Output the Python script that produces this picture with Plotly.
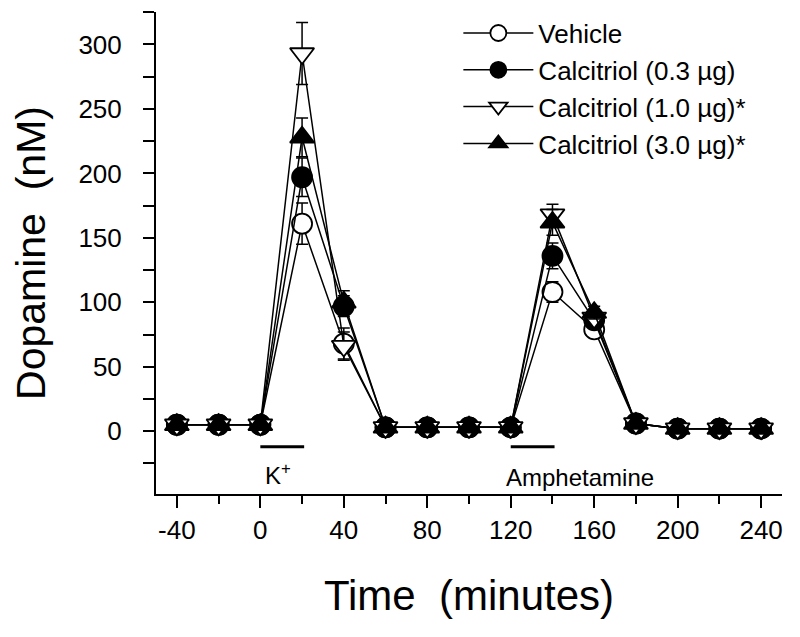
import plotly.graph_objects as go

time_min = [-40, -20, 0, 20, 40, 60, 80, 100, 120, 140, 160, 180, 200, 220, 240]

vehicle = [5, 5, 5, 161, 68, 3, 3, 3, 3, 108, 79, 6, 2, 2, 2]
vehicle_err = [2, 2, 2, 16, 12, 1, 1, 1, 1, 8, 5, 2, 1, 1, 1]

calc_03 = [5, 5, 5, 197, 97, 3, 3, 3, 3, 136, 86, 6, 2, 2, 2]
calc_03_err = [2, 2, 2, 15, 8, 1, 1, 1, 1, 10, 5, 2, 1, 1, 1]

calc_10 = [5, 5, 5, 293, 66, 3, 3, 3, 3, 168, 88, 6, 2, 2, 2]
calc_10_err = [2, 2, 2, 24, 11, 1, 1, 1, 1, 8, 5, 2, 1, 1, 1]

calc_30 = [5, 5, 5, 228, 100, 3, 3, 3, 3, 162, 92, 6, 2, 2, 2]
calc_30_err = [2, 2, 2, 15, 9, 1, 1, 1, 1, 10, 5, 2, 1, 1, 1]

series_names = ["Vehicle", "Calcitriol (0.3 µg)", "Calcitriol (1.0 µg)*", "Calcitriol (3.0 µg)*"]

x_tick_vals = [-40, 0, 40, 80, 120, 160, 200, 240]
x_tick_text = ["-40", "0", "40", "80", "120", "160", "200", "240"]

FONT = "Liberation Sans, Arial, sans-serif"

styles = [
    dict(symbol="circle", color="white", size=20),
    dict(symbol="circle", color="black", size=20),
    dict(symbol="triangle-down", color="white", size=21),
    dict(symbol="triangle-up", color="black", size=21),
]
datas = [(vehicle, vehicle_err), (calc_03, calc_03_err), (calc_10, calc_10_err), (calc_30, calc_30_err)]

fig = go.Figure()
for name, (vals, errs), st in zip(series_names, datas, styles):
    fig.add_trace(go.Scatter(
        x=time_min, y=vals, name=name, mode="lines+markers",
        legendgroup=name,
        line=dict(color="black", width=1.5),
        marker=dict(symbol=st["symbol"], color=st["color"], size=st["size"],
                    line=dict(color="black", width=1.8)),
        error_y=dict(type="data", array=errs, visible=True, color="black",
                     thickness=1.5, width=6),
    ))

# stimulus bars and labels
fig.add_shape(type="line", x0=0, x1=21, y0=-12, y1=-12, xref="x", yref="y",
              line=dict(color="black", width=3))
fig.add_shape(type="line", x0=120, x1=141, y0=-12, y1=-12, xref="x", yref="y",
              line=dict(color="black", width=3))
fig.add_annotation(x=1.5, y=-33, xref="x", yref="y", text="K<sup>+</sup>",
                   showarrow=False, xanchor="left", yanchor="middle",
                   font=dict(family=FONT, size=24, color="black"))
fig.add_annotation(x=117, y=-36, xref="x", yref="y", text="Amphetamine",
                   showarrow=False, xanchor="left", yanchor="middle",
                   font=dict(family=FONT, size=24, color="black"))

# the page body adds an 8 px offset, so the figure is 8 px smaller and shifted
fig.update_layout(
    width=792, height=629,
    margin=dict(l=148, r=18, t=2, b=143),
    paper_bgcolor="white", plot_bgcolor="white",
    font=dict(family=FONT, color="black"),
    showlegend=True,
    legend=dict(x=0.483, y=1.005, xanchor="left", yanchor="top",
                bgcolor="rgba(0,0,0,0)", font=dict(size=26, color="black"),
                tracegroupgap=0, itemwidth=70),
    xaxis=dict(range=[-50, 250], tickmode="array", tickvals=x_tick_vals, ticktext=x_tick_text,
               ticks="outside", ticklen=12, tickwidth=2, tickcolor="black",
               minor=dict(tick0=-40, dtick=20, ticks="outside", ticklen=8, tickwidth=2, tickcolor="black"),
               showline=True, linecolor="black", linewidth=2, showgrid=False, zeroline=False,
               ticklabelstandoff=0, automargin=False,
               tickfont=dict(size=26), title=dict(text="Time  (minutes)", font=dict(size=42), standoff=36)),
    yaxis=dict(range=[-48.7, 325.2], tickmode="linear", tick0=0, dtick=50,
               ticks="outside", ticklen=11, tickwidth=2, tickcolor="black",
               minor=dict(tick0=0, dtick=25, ticks="outside", ticklen=11, tickwidth=2, tickcolor="black"),
               showline=True, linecolor="black", linewidth=2, showgrid=False, zeroline=False,
               ticklabelstandoff=16, automargin=False,
               tickfont=dict(size=26), title=dict(text="Dopamine  (nM)", font=dict(size=41), standoff=30)),
)

fig.write_html("out.html")
